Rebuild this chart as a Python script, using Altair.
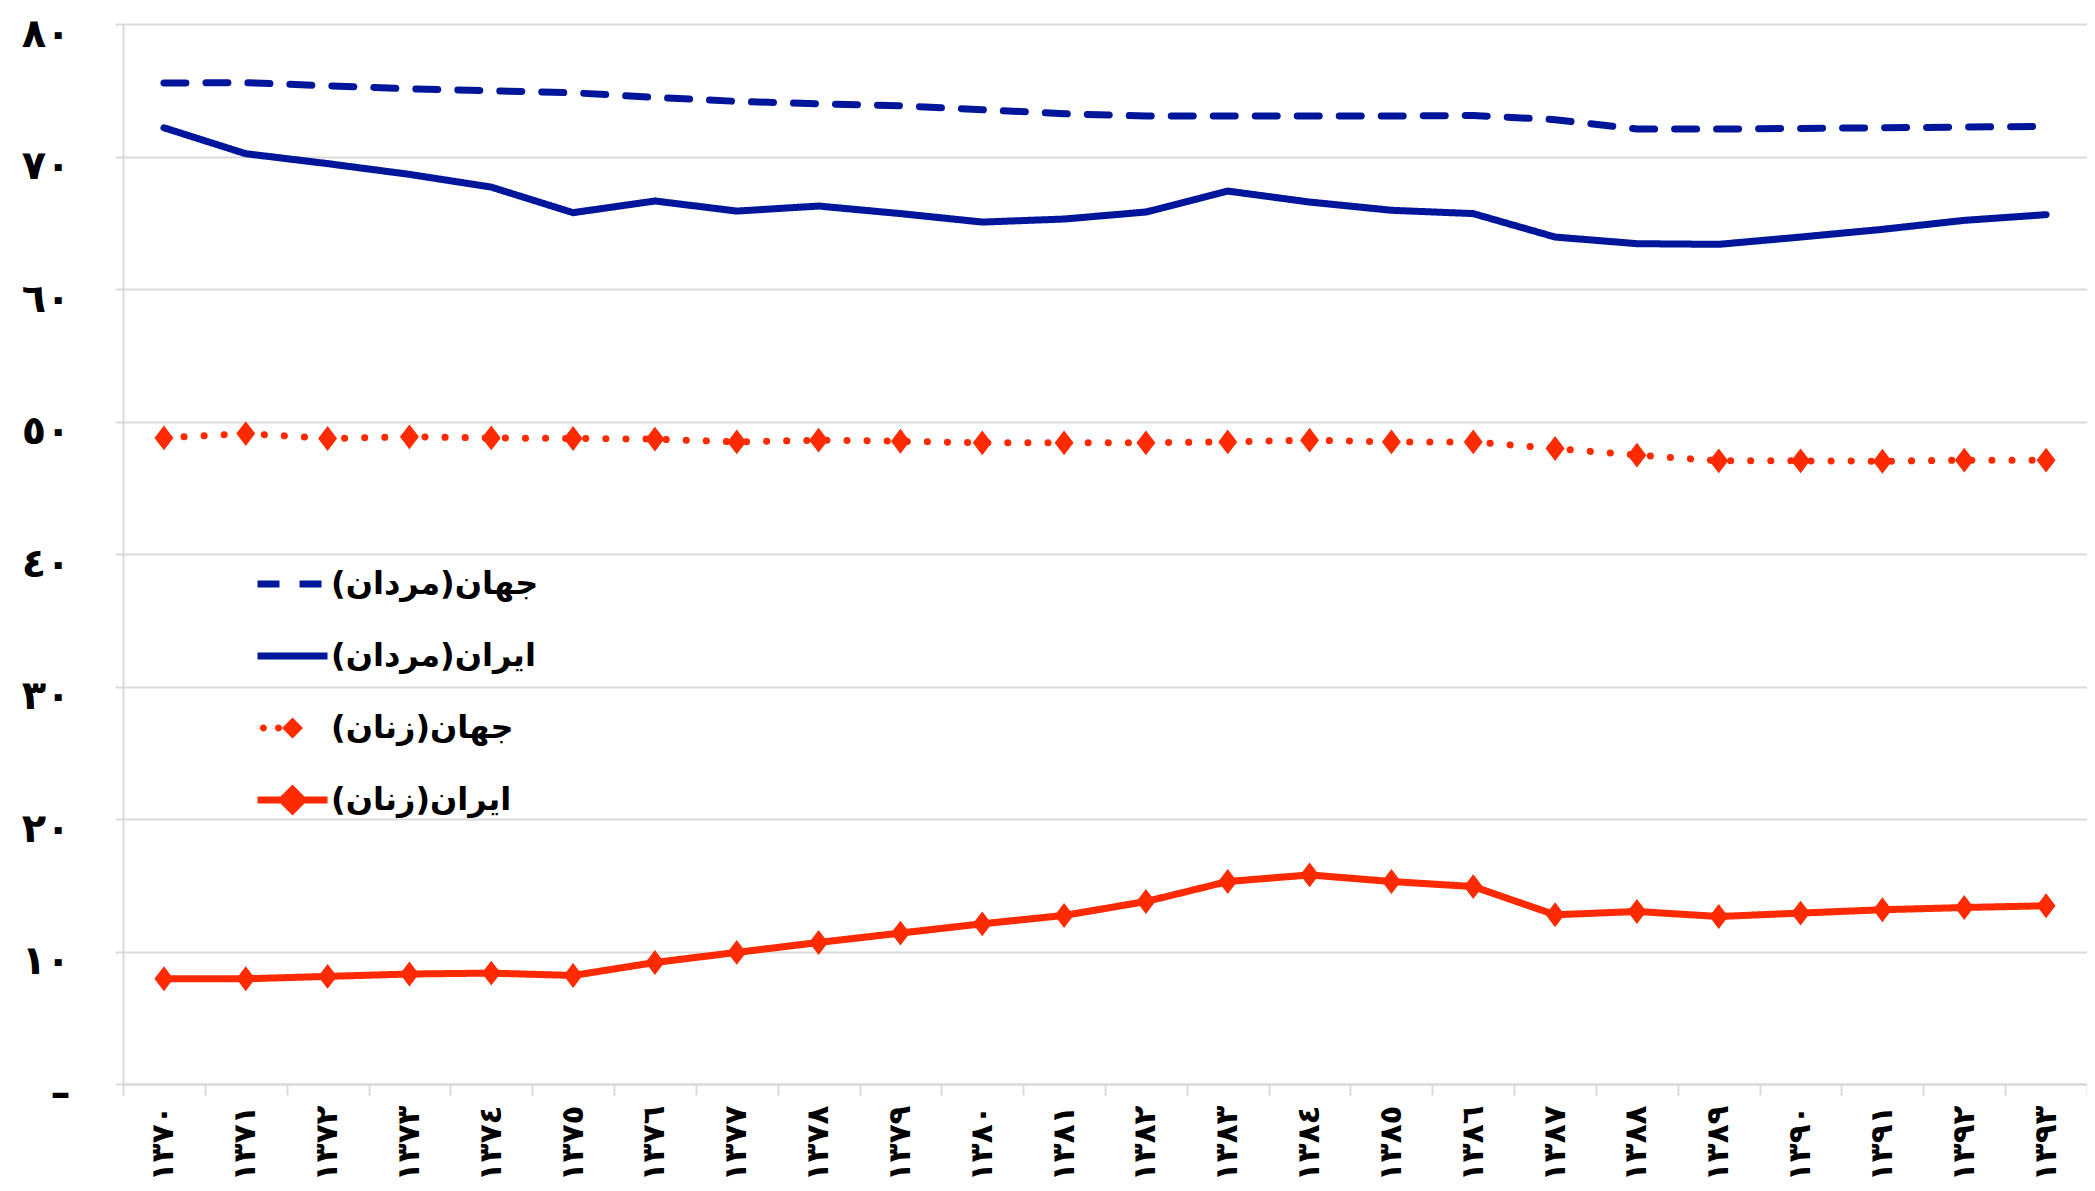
import json
import altair as alt
import pandas as pd

# ---- data ----
years = ["١٣٧٠", "١٣٧١", "١٣٧٢", "١٣٧٣", "١٣٧٤", "١٣٧٥", "١٣٧٦", "١٣٧٧",
         "١٣٧٨", "١٣٧٩", "١٣٨٠", "١٣٨١", "١٣٨٢", "١٣٨٣", "١٣٨٤", "١٣٨٥",
         "١٣٨٦", "١٣٨٧", "١٣٨٨", "١٣٨٩", "١٣٩٠", "١٣٩١", "١٣٩٢", "١٣٩٣"]

series_names = ["جهان(مردان)", "ایران(مردان)", "جهان(زنان)", "ایران(زنان)"]

world_men = [75.55, 75.57, 75.34, 75.11, 74.96, 74.81, 74.46, 74.16, 73.98, 73.83, 73.53, 73.23,
             73.05, 73.05, 73.05, 73.05, 73.10, 72.78, 72.07, 72.07, 72.12, 72.17, 72.22, 72.27]
iran_men = [72.17, 70.21, 69.46, 68.65, 67.69, 65.76, 66.64, 65.88, 66.26, 65.69, 65.05, 65.28,
            65.81, 67.39, 66.56, 65.94, 65.69, 63.92, 63.42, 63.37, 63.92, 64.50, 65.18, 65.61]
world_women = [48.76, 49.09, 48.72, 48.84, 48.76, 48.72, 48.67, 48.46, 48.59, 48.51, 48.39, 48.39,
               48.39, 48.46, 48.59, 48.46, 48.46, 47.96, 47.46, 47.03, 47.03, 47.00, 47.08, 47.08]
iran_women = [7.94, 7.94, 8.12, 8.30, 8.37, 8.19, 9.17, 9.93, 10.68, 11.39, 12.09, 12.72,
              13.77, 15.28, 15.78, 15.28, 14.90, 12.77, 13.02, 12.64, 12.90, 13.15, 13.32, 13.45]

y_tick_labels = ["–\u00a0\u00a0", "١٠", "٢٠", "٣٠", "٤٠", "٥٠", "٦٠", "٧٠", "٨٠"]

BLUE = "#00169a"
RED = "#ff2a00"
GRID = "#d9d9d9"
FONT = "DejaVu Sans"

rows = []
for name, vals in zip(series_names, [world_men, iran_men, world_women, iran_women]):
    for yr, v in zip(years, vals):
        rows.append({"year": yr, "value": v, "series": name})
df = pd.DataFrame(rows)

DIAMOND = "M0,-1.05L0.8,0L0,1.05L-0.8,0Z"
LEG_DIAMOND = "M-1,0L1,0M0,-0.3L0.3,0L0,0.3L-0.3,0Z"
LEG_DOTS = ("M-0.93,0A0.1,0.1 0 1,0 -0.73,0A0.1,0.1 0 1,0 -0.93,0Z"
            "M-0.5,0A0.1,0.1 0 1,0 -0.3,0A0.1,0.1 0 1,0 -0.5,0Z"
            "M0,-0.3L0.3,0L0,0.3L-0.3,0Z")

color_scale = alt.Scale(domain=series_names, range=[BLUE, BLUE, RED, RED])
dash_scale = alt.Scale(domain=series_names, range=[[22, 20], [1, 0], [0.1, 20], [1, 0]])
shape_scale = alt.Scale(domain=series_names, range=["stroke", "stroke", LEG_DOTS, LEG_DIAMOND])

x_enc = alt.X(
    "year:O",
    sort=years,
    bandPosition=0.5,
    scale=alt.Scale(type="band", paddingInner=0, paddingOuter=0),
    axis=alt.Axis(
        title=None,
        labelAngle=270,
        labelAlign="right",
        labelBaseline="middle",
        labelPadding=10,
        labelFontSize=31,
        tickBand="extent",
        tickSize=11,
        tickColor=GRID,
        tickWidth=2,
        domainColor=GRID,
        domainWidth=2,
        grid=False,
    ),
)
y_enc = alt.Y(
    "value:Q",
    scale=alt.Scale(domain=[0, 80], nice=False),
    axis=alt.Axis(
        title=None,
        values=[0, 10, 20, 30, 40, 50, 60, 70, 80],
        labelExpr="%s[datum.value / 10]" % json.dumps(y_tick_labels, ensure_ascii=False),
        labelFontSize=40,
        labelPadding=45,
        labelOffset=10,
        tickSize=8,
        tickColor=GRID,
        tickWidth=2,
        domainColor=GRID,
        domainWidth=2,
        gridColor=GRID,
        gridWidth=2,
    ),
)

base = alt.Chart(df)

lines = base.mark_line(strokeWidth=7, strokeCap="round", strokeJoin="round").encode(
    x=x_enc,
    y=y_enc,
    color=alt.Color("series:N", scale=color_scale, title=None,
                    legend=alt.Legend(orient="none", legendX=131, legendY=525)),
    strokeDash=alt.StrokeDash("series:N", scale=dash_scale, title=None),
)

legend_shapes = base.transform_filter("false").mark_point(filled=True, opacity=1).encode(
    x=x_enc,
    y=y_enc,
    color=alt.Color("series:N", scale=color_scale, title=None),
    shape=alt.Shape("series:N", scale=shape_scale, title=None),
)

points = base.transform_filter(
    alt.FieldOneOfPredicate(field="series", oneOf=series_names[2:])
).mark_point(shape=DIAMOND, filled=True, size=560, opacity=1, color=RED).encode(
    x=x_enc,
    y=y_enc,
)

chart = (
    alt.layer(lines, legend_shapes, points)
    .properties(
        width=1964,
        height=1060,
        padding={"left": 115, "top": 16, "right": 0, "bottom": 97},
        autosize=alt.AutoSizeParams(type="none"),
    )
    .configure_view(stroke=None)
    .configure_axis(labelFont=FONT, labelFontWeight="bold", labelColor="#000")
    .configure_legend(
        labelFont=FONT,
        labelFontWeight="bold",
        labelFontSize=32,
        labelColor="#000",
        labelLimit=600,
        symbolSize=4900,
        symbolStrokeWidth=7,
        symbolOpacity=1,
        clipHeight=70,
        rowPadding=2,
        labelOffset=0,
        padding=0,
    )
)

chart.save("out.html", embed_options={"renderer": "svg", "actions": False})
